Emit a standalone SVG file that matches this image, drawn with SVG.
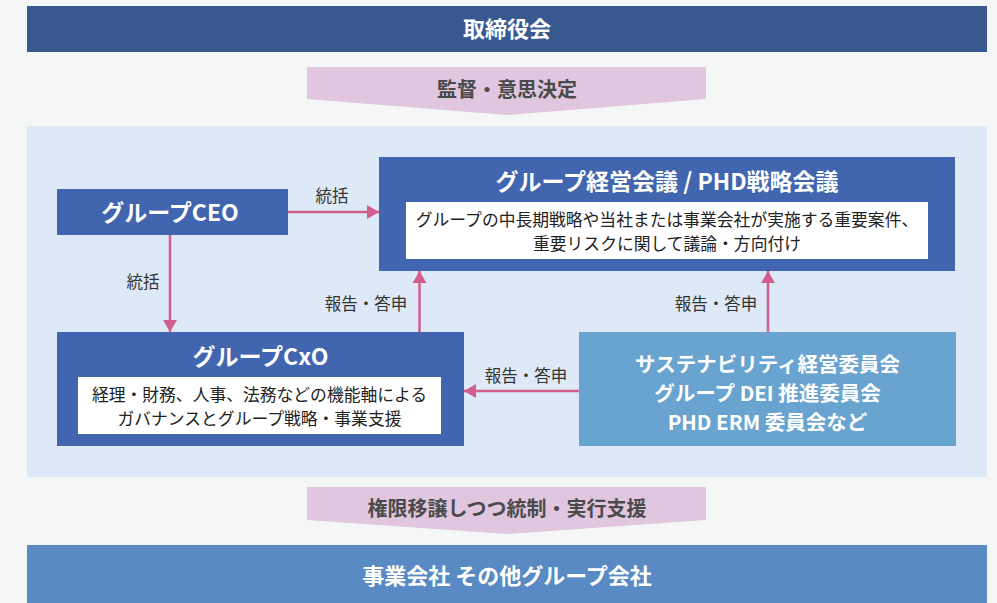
<svg xmlns="http://www.w3.org/2000/svg" width="997" height="603" viewBox="0 0 997 603">
<defs>
<style>
text{font-family:"Noto Sans CJK JP","Noto Sans",sans-serif;text-anchor:middle}
.w{fill:#ffffff;font-weight:bold}
.band{fill:#ffffff;font-weight:bold;font-size:22px}
.pk{fill:#4A4A4A;font-weight:bold;font-size:20px}
.lbl{fill:#333333;font-size:16.5px}
.body{fill:#222222;font-size:16.8px}
.conn{stroke:#D25E8E;stroke-width:2.5;fill:none}
</style>
<marker id="ah" markerWidth="12" markerHeight="14" refX="12" refY="7" orient="auto" markerUnits="userSpaceOnUse">
<path d="M0,0 L12,7 L0,14 Z" fill="#D25E8E"/>
</marker>
</defs>
<rect x="0" y="0" width="997" height="603" fill="#F5F7F7"/>

<g id="board">
<rect x="27" y="6" width="960" height="46" fill="#37598F"/>
<text class="band" x="507" y="37">取締役会</text>
</g>

<g id="flow-top">
<polygon points="307,67 706,67 706,99 507,115 307,99" fill="#E0C6DF"/>
<text class="pk" x="507" y="97">監督・意思決定</text>
</g>

<rect id="panel" x="27" y="126" width="960" height="351" fill="#DDE9F6"/>

<g id="connectors">
<line class="conn" x1="288" y1="212" x2="379" y2="212" marker-end="url(#ah)"/>
<line class="conn" x1="170" y1="235" x2="170" y2="332" marker-end="url(#ah)"/>
<line class="conn" x1="419.5" y1="332" x2="419.5" y2="271" marker-end="url(#ah)"/>
<line class="conn" x1="768" y1="332" x2="768" y2="271" marker-end="url(#ah)"/>
<line class="conn" x1="579" y1="391" x2="464" y2="391" marker-end="url(#ah)"/>
<text class="lbl" x="332" y="202">統括</text>
<text class="lbl" x="143" y="288">統括</text>
<text class="lbl" x="366" y="310">報告・答申</text>
<text class="lbl" x="716" y="310">報告・答申</text>
<text class="lbl" x="526" y="382">報告・答申</text>
</g>

<g id="ceo">
<rect x="57" y="189" width="231" height="46" fill="#4265AF"/>
<text class="w" x="170" y="221" font-size="23">グループCEO</text>
</g>

<g id="meeting">
<rect x="379" y="157" width="576" height="114" fill="#4265AF"/>
<text class="w" x="667" y="190" font-size="23">グループ経営会議 / PHD戦略会議</text>
<rect x="406" y="202" width="522" height="57" fill="#ffffff"/>
<text class="body" x="667" y="226">グループの中長期戦略や当社または事業会社が実施する重要案件、</text>
<text class="body" x="667" y="250">重要リスクに関して議論・方向付け</text>
</g>

<g id="cxo">
<rect x="57" y="332" width="407" height="114" fill="#4265AF"/>
<text class="w" x="260.5" y="365" font-size="23">グループCxO</text>
<rect x="78" y="377" width="363" height="57" fill="#ffffff"/>
<text class="body" x="259.5" y="401">経理・財務、人事、法務などの機能軸による</text>
<text class="body" x="259.5" y="425">ガバナンスとグループ戦略・事業支援</text>
</g>

<g id="committees">
<rect x="579" y="332" width="377" height="114" fill="#68A4CF"/>
<text class="w" x="767.5" y="372" font-size="20.5">サステナビリティ経営委員会</text>
<text class="w" x="767.5" y="401" font-size="20.5">グループ DEI 推進委員会</text>
<text class="w" x="767.5" y="430" font-size="20.5">PHD ERM 委員会など</text>
</g>

<g id="flow-bottom">
<polygon points="307,487 706,487 706,520 507,534 307,520" fill="#E0C6DF"/>
<text class="pk" x="507" y="516">権限移譲しつつ統制・実行支援</text>
</g>

<g id="companies">
<rect x="27" y="545" width="960" height="58" fill="#5A8AC4"/>
<text class="band" x="507" y="584">事業会社 その他グループ会社</text>
</g>
</svg>
